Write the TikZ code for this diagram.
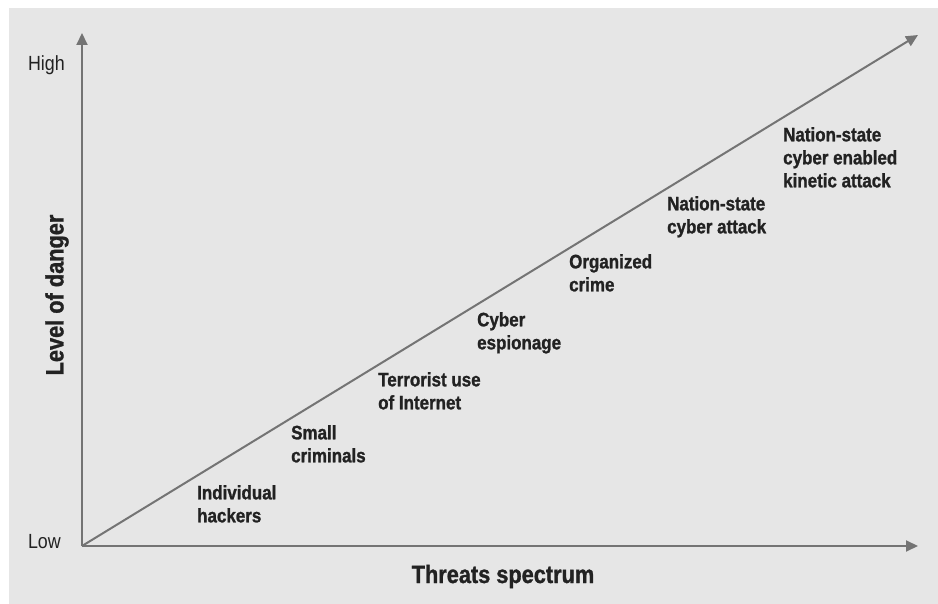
\documentclass[tikz,border=0pt]{standalone}
\usepackage{fontspec}
\setmainfont{Liberation Sans}[FakeStretch=0.87, BoldFeatures={FakeBold=1.2}]
\usepackage{tikz}
\usetikzlibrary{arrows.meta}
\definecolor{panel}{HTML}{E6E6E6}
\definecolor{axisgray}{HTML}{747474}
\definecolor{ink}{HTML}{222222}
\tikzset{
  axis/.style={draw=axisgray, line width=2pt, -{Triangle[length=12pt, width=11pt]}},
  level/.style={text=ink, inner sep=0pt, font=\fontsize{20.5}{24}\selectfont},
  threat/.style={text=ink, inner sep=0pt, anchor=north west, align=left,
    font=\bfseries\fontsize{19.5}{23}\selectfont},
  title/.style={text=ink, inner sep=0pt, font=\bfseries\fontsize{25}{28}\selectfont}
}

\begin{document}
\begin{tikzpicture}[x=1pt, y=-1pt]
        \useasboundingbox (0,0) rectangle (938,604);
        \fill[white] (0,0) rectangle (938,604);
        \fill[panel] (9,8) rectangle (938,604);
        \coordinate (origin) at (82,546);
        \coordinate (ytip) at (82,33);
        \coordinate (xtip) at (918,546);
        \coordinate (dtip) at (918,35);
        \draw[axis] (origin) -- (ytip);
        \draw[axis] (origin) -- (xtip);
        \draw[axis] (origin) -- (dtip);
        \node[level, anchor=base east] (high) at (65,71) {High};
        \node[level, anchor=base east] (low) at (61,548) {Low};
        \node[title, rotate=90] (danger) at (57,295) {Level of danger};
        \node[title, anchor=base] (spectrum) at (503,583) {Threats spectrum};
        \foreach \name/\x/\y/\txt in {
          hackers/197/485/{Individual\\hackers},
          criminals/291/425/{Small\\criminals},
          terrorist/378/372/{Terrorist use\\of Internet},
          espionage/477/312/{Cyber\\espionage},
          crime/569/254/{Organized\\crime},
          cyberattack/667/196/{Nation-state\\cyber attack},
          kinetic/783/127/{Nation-state\\cyber enabled\\kinetic attack}}{
          \node[threat] (\name) at (\x,\y) {\txt};
        }
      \end{tikzpicture}
\end{document}
